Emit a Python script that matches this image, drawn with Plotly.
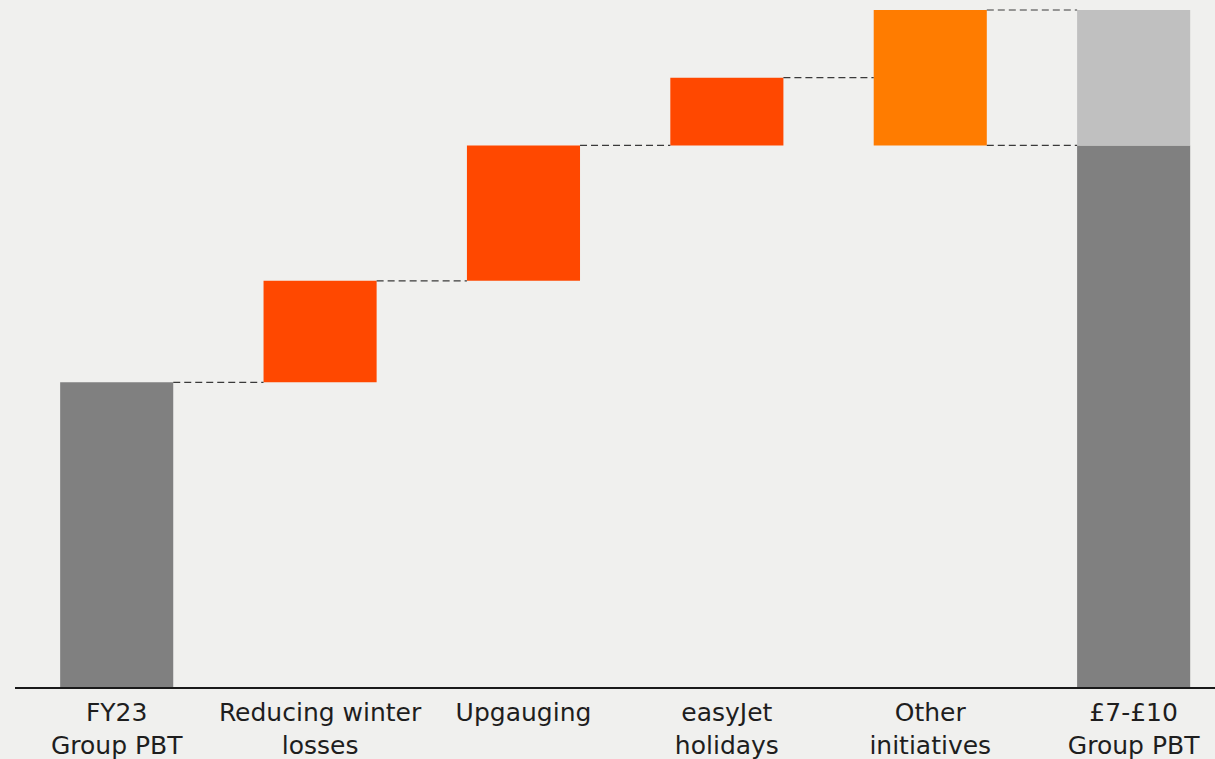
import plotly.graph_objects as go

# Bridge from FY23 Group PBT to the £7-£10 target
categories = ["FY23<br>Group PBT", "Reducing winter<br>losses", "Upgauging",
              "easyJet<br>holidays", "Other<br>initiatives", "£7-£10<br>Group PBT"]
start_value = 4.5
step_values = [1.5, 2.0, 1.0]          # Reducing winter losses, Upgauging, easyJet holidays
other_range = [8.0, 10.0]              # Other initiatives (low, high)
target_range = [8.0, 10.0]             # £7-£10 Group PBT (low, high)

GREY = "#808080"
LIGHT_GREY = "#c0c0c0"
RED_ORANGE = "#ff4800"
ORANGE = "#ff7c00"
BG = "#f0f0ee"
BAR_W = 0.556

pos = list(range(len(categories)))

# cumulative levels for the step bars
bases = []
level = start_value
for v in step_values:
    bases.append(level)
    level += v

fig = go.Figure()
fig.add_trace(go.Bar(x=[pos[0]], y=[start_value], base=[0], marker_color=GREY, width=BAR_W))
fig.add_trace(go.Bar(x=pos[1:4], y=step_values, base=bases, marker_color=RED_ORANGE, width=BAR_W))
fig.add_trace(go.Bar(x=[pos[4]], y=[other_range[1] - other_range[0]], base=[other_range[0]],
                     marker_color=ORANGE, width=BAR_W))
fig.add_trace(go.Bar(x=[pos[5]], y=[target_range[0]], base=[0], marker_color=GREY, width=BAR_W))
fig.add_trace(go.Bar(x=[pos[5]], y=[target_range[1] - target_range[0]], base=[target_range[0]],
                     marker_color=LIGHT_GREY, width=BAR_W))
fig.update_traces(marker_line_width=0, hoverinfo="skip")

# dashed connectors between adjacent bars
levels = [start_value] + [b + v for b, v in zip(bases, step_values)]
connectors = [(i, lv) for i, lv in enumerate(levels)]
connectors += [(4, other_range[1]), (4, other_range[0])]
for i, lv in connectors:
    fig.add_shape(type="line", xref="x", yref="y",
                  x0=pos[i] + BAR_W / 2, x1=pos[i + 1] - BAR_W / 2, y0=lv, y1=lv,
                  line=dict(color="#3a3a3a", width=1.2, dash="7px,4px"))

fig.update_layout(
    width=1215, height=759,
    margin=dict(l=15, r=0, t=0, b=72),
    paper_bgcolor=BG, plot_bgcolor=BG,
    showlegend=False, barmode="overlay",
    font=dict(family="DejaVu Sans", size=25, color="#1e1e1e"),
    xaxis=dict(range=[-0.5, 5.4], tickmode="array", tickvals=pos, ticktext=categories,
               showgrid=False, zeroline=False, showline=True, linecolor="#1a1a1a",
               linewidth=2, ticks="", ticklabelstandoff=2, fixedrange=True),
    yaxis=dict(range=[0, 687 / 67.7], visible=False, showgrid=False, fixedrange=True),
)

fig.write_html("out.html")
